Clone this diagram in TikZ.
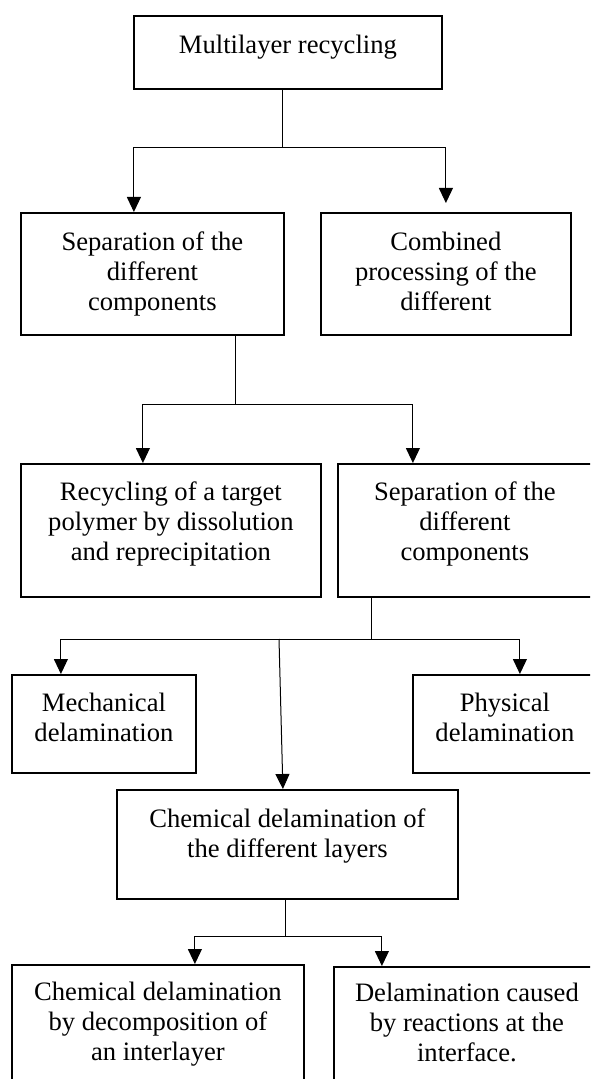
\documentclass[tikz,border=0pt]{standalone}
\usepackage{fontspec}
\setmainfont{Liberation Serif}
\usetikzlibrary{arrows.meta, calc}

% extra depth below the last line, lifts the text inside a box
\newcommand{\downpad}[1]{\rule[-#1]{0pt}{#1}}

\tikzset{
    box/.style={draw, line width=0.9pt, anchor=north west, align=center, inner sep=0pt,
        font=\fontsize{13.3}{15}\selectfont},
    link/.style={line width=0.5pt},
    arr/.style={line width=0.5pt, -{Triangle[length=7.5pt,width=7pt]}}
}

\begin{document}
\begin{tikzpicture}[x=0.5pt, y=-0.5pt]

    % Frame of the page
    \clip (0,0) rectangle (590,1079);

    % Top
    \node[box, minimum width=154pt, minimum height=36.5pt] (recycling) at (133,15)
        {Multilayer recycling\downpad{8.6pt}};

    % Second row
    \node[box, minimum width=131.5pt, minimum height=61pt] (sepA) at (20,212)
        {Separation of the\\ different\\ components\downpad{3.1pt}};
    \node[box, minimum width=125pt, minimum height=61pt] (combined) at (320,212)
        {Combined\\ processing of the\\ different\downpad{3.1pt}};

    % Third row
    \node[box, minimum width=150pt, minimum height=66.5pt] (target) at (20,463)
        {Recycling of a target\\ polymer by dissolution\\ and reprecipitation\downpad{9.6pt}};
    \node[box, minimum width=127pt, minimum height=66.5pt] (sepB) at (337,463)
        {Separation of the\\ different\\ components\downpad{9.6pt}};

    % Delamination
    \node[box, minimum width=92pt, minimum height=49pt] (mech) at (11,674)
        {Mechanical\\ delamination\downpad{7.1pt}};
    \node[box, minimum width=92pt, minimum height=49pt] (phys) at (412,674)
        {Physical\\ delamination\downpad{7.1pt}};
    \node[box, minimum width=170.5pt, minimum height=54.5pt] (chem) at (116,789)
        {Chemical delamination of\\ the different layers\downpad{11.6pt}};

    % Bottom row
    \node[box, minimum width=146pt, minimum height=60.5pt] (decomp) at (11,964)
        {Chemical delamination\\ by decomposition of\\ an interlayer\downpad{4.6pt}};
    \node[box, minimum width=133pt, minimum height=59.5pt] (interface) at (333,966)
        {Delamination caused\\ by reactions at the\\ interface.\downpad{4.6pt}};

    % Junctions
    \coordinate (j1) at (282,148);
    \coordinate (j2) at (235,404);
    \coordinate (j3) at (371,639);
    \coordinate (j3b) at (279,639);
    \coordinate (j4) at (285,936);

    % Connectors
    \draw[link] (recycling.south -| j1) -- (j1);
    \draw[arr] (j1) -| ($(sepA.north)+(-18.5,0)$);
    \draw[arr] (j1) -| ([yshift=4.5pt]combined.north);

    \draw[link] (sepA.south -| j2) -- (j2);
    \draw[arr] (j2) -| ($(target.north)+(-28,0)$);
    \draw[arr] (j2) -| ($(sepB.north)+(-52,0)$);

    \draw[link] (sepB.south -| j3) -- (j3);
    \draw[arr] (j3) -| ($(mech.north)+(-43,0)$);
    \draw[arr] (j3) -| ($(phys.north)+(15,0)$);
    \draw[arr] (j3b) -- ($(chem.north)+(-4.5,0)$);

    \draw[link] (chem.south -| j4) -- (j4);
    \draw[arr] (j4) -| ($(decomp.north)+(37,0)$);
    \draw[arr] (j4) -| ($(interface.north)+(-85,0)$);

\end{tikzpicture}
\end{document}
